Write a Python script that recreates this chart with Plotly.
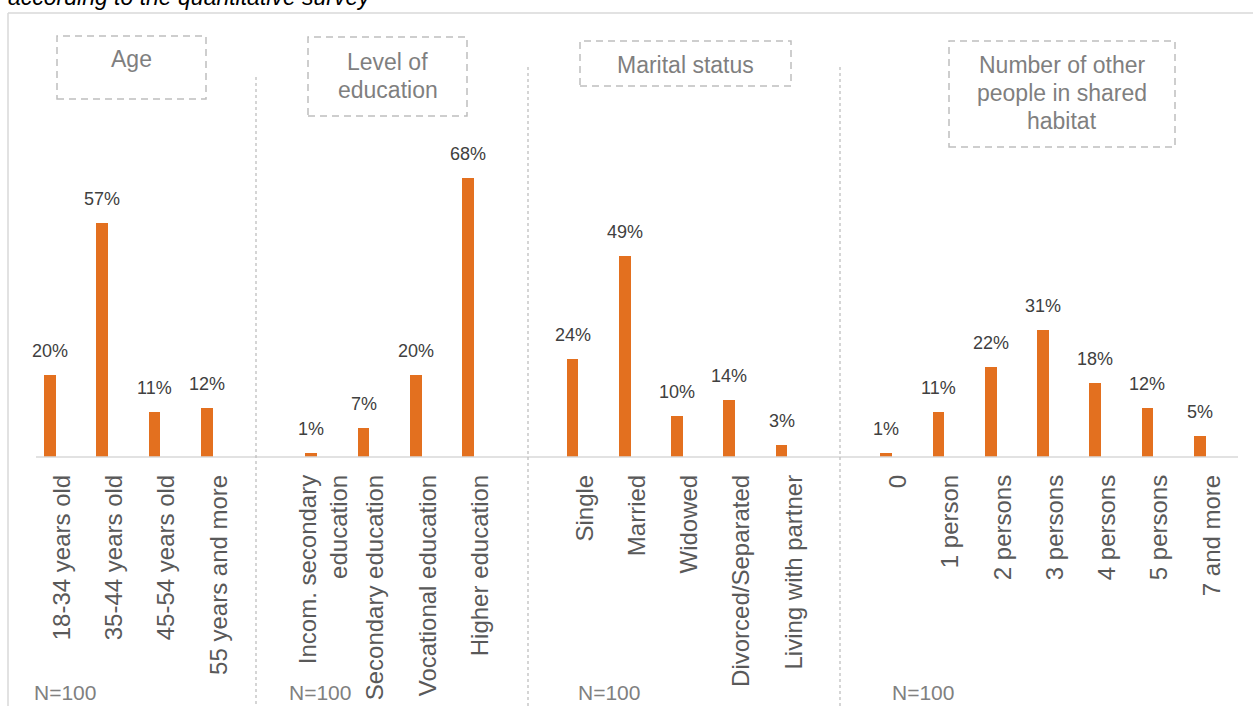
import plotly.graph_objects as go

# ---- data ----
age_labels = ["18-34 years old", "35-44 years old", "45-54 years old", "55 years and more"]
age_values = [20, 57, 11, 12]
edu_labels = ["Incom. secondary<br>education", "Secondary education", "Vocational education", "Higher education"]
edu_values = [1, 7, 20, 68]
mar_labels = ["Single", "Married", "Widowed", "Divorced/Separated", "Living with partner"]
mar_values = [24, 49, 10, 14, 3]
ppl_labels = ["0", "1 person", "2 persons", "3 persons", "4 persons", "5 persons", "7 and more"]
ppl_values = [1, 11, 22, 31, 18, 12, 5]
group_titles = [["Age"], ["Level of", "education"], ["Marital status"],
                ["Number of other", "people in shared", "habitat"]]
sample_note = "N=100"
title_text = "according to the quantitative survey"

groups = [(age_labels, age_values), (edu_labels, edu_values),
          (mar_labels, mar_values), (ppl_labels, ppl_values)]

# build slot positions with one empty slot between groups
xs, vals, labels = [], [], []
pos = 0
for gi, (labs, vs) in enumerate(groups):
    for lab, v in zip(labs, vs):
        xs.append(pos)
        vals.append(v)
        labels.append(lab)
        pos += 1
    pos += 1

ORANGE = "#E3701F"
FONT = "Liberation Sans, Arial, sans-serif"

W, H = 1253, 706
L, R, T, B = 36, 15, 13, 249
PW = W - L - R
PH = H - T - B
YMAX = 108.2


def px_x(p):
    return (p - L) / PW


def px_y(p):
    return (H - B - p) / PH


fig = go.Figure()
fig.add_trace(go.Bar(
    x=xs, y=vals, marker=dict(color=ORANGE, line=dict(width=0)),
    width=0.224, offset=-0.345, hoverinfo="skip", showlegend=False,
))

annotations = []
for x, v in zip(xs, vals):
    annotations.append(dict(
        x=x - 0.233, y=v, xref="x", yref="y", text=f"{v}%", showarrow=False,
        yanchor="middle", yshift=24,
        font=dict(family=FONT, size=18, color="#404040"),
    ))

shapes = []
# outer frame
shapes.append(dict(type="line", xref="paper", yref="paper",
                   x0=px_x(8), x1=px_x(1270), y0=px_y(13), y1=px_y(13),
                   line=dict(color="#d9d9d9", width=1.5)))
shapes.append(dict(type="line", xref="paper", yref="paper",
                   x0=px_x(8), x1=px_x(8), y0=px_y(13), y1=px_y(720),
                   line=dict(color="#d9d9d9", width=1.5)))
# baseline
shapes.append(dict(type="line", xref="paper", yref="paper",
                   x0=0, x1=1, y0=0, y1=0,
                   line=dict(color="#d9d9d9", width=1.5)))
# separators
for sx, sy in [(256, 77), (528, 67), (840, 67)]:
    shapes.append(dict(type="line", xref="paper", yref="paper",
                       x0=px_x(sx), x1=px_x(sx), y0=px_y(sy), y1=px_y(720),
                       line=dict(color="#bfbfbf", width=1.3, dash="3px,3px")))

# group title boxes
boxes = [(57, 206, 36, 99, [59]),
         (308, 467, 37, 116, [62, 90]),
         (580, 791, 41, 86, [65]),
         (949, 1175, 41, 147, [65, 93, 121])]
for (bx0, bx1, by0, by1, lines), title_lines in zip(boxes, group_titles):
    shapes.append(dict(type="rect", xref="paper", yref="paper",
                       x0=px_x(bx0), x1=px_x(bx1), y0=px_y(by1), y1=px_y(by0),
                       line=dict(color="#bfbfbf", width=1.5, dash="7px,5px"),
                       fillcolor="rgba(0,0,0,0)"))
    for ly, txt in zip(lines, title_lines):
        annotations.append(dict(
            x=px_x((bx0 + bx1) / 2), y=px_y(ly), xref="paper", yref="paper",
            text=txt, showarrow=False, xanchor="center", yanchor="middle",
            font=dict(family=FONT, size=23, color="#7f7f7f")))

# N=100 notes
for nx in [32, 287, 576, 890]:
    annotations.append(dict(
        x=px_x(nx), y=px_y(692), xref="paper", yref="paper", text=sample_note,
        showarrow=False, xanchor="left", yanchor="middle",
        font=dict(family=FONT, size=21, color="#808080")))

# cut-off title (only its lower part is visible in the reference)
annotations.append(dict(
    x=px_x(6), y=px_y(-3), xref="paper", yref="paper",
    text=f"<i>{title_text}</i>", showarrow=False, xanchor="left", yanchor="middle",
    font=dict(family=FONT, size=23, color="#000000")))

fig.update_layout(
    width=W - 16, height=H - 16,
    margin=dict(l=L, r=R, t=T, b=B, pad=0, autoexpand=False),
    paper_bgcolor="white", plot_bgcolor="white",
    bargap=0,
    showlegend=False,
    shapes=shapes, annotations=annotations,
    xaxis=dict(range=[-0.5, pos - 1 - 0.5], tickmode="array", tickvals=xs, ticktext=labels,
               tickangle=-90, showgrid=False, zeroline=False, showline=False,
               automargin=False,
               ticks="", ticklabelstandoff=12,
               tickfont=dict(family=FONT, size=24, color="#595959")),
    yaxis=dict(range=[0, YMAX], visible=False, showgrid=False, zeroline=False,
               automargin=False),
)

post = (
    "document.body.style.margin='0';document.body.style.overflow='hidden';"
    "var gd=document.getElementById('{plot_id}');"
    f"gd.style.width='{W}px';gd.style.height='{H}px';"
    f"Plotly.relayout(gd,{{width:{W},height:{H}}});"
)

fig.write_html("out.html", config={"displayModeBar": False}, post_script=post)
